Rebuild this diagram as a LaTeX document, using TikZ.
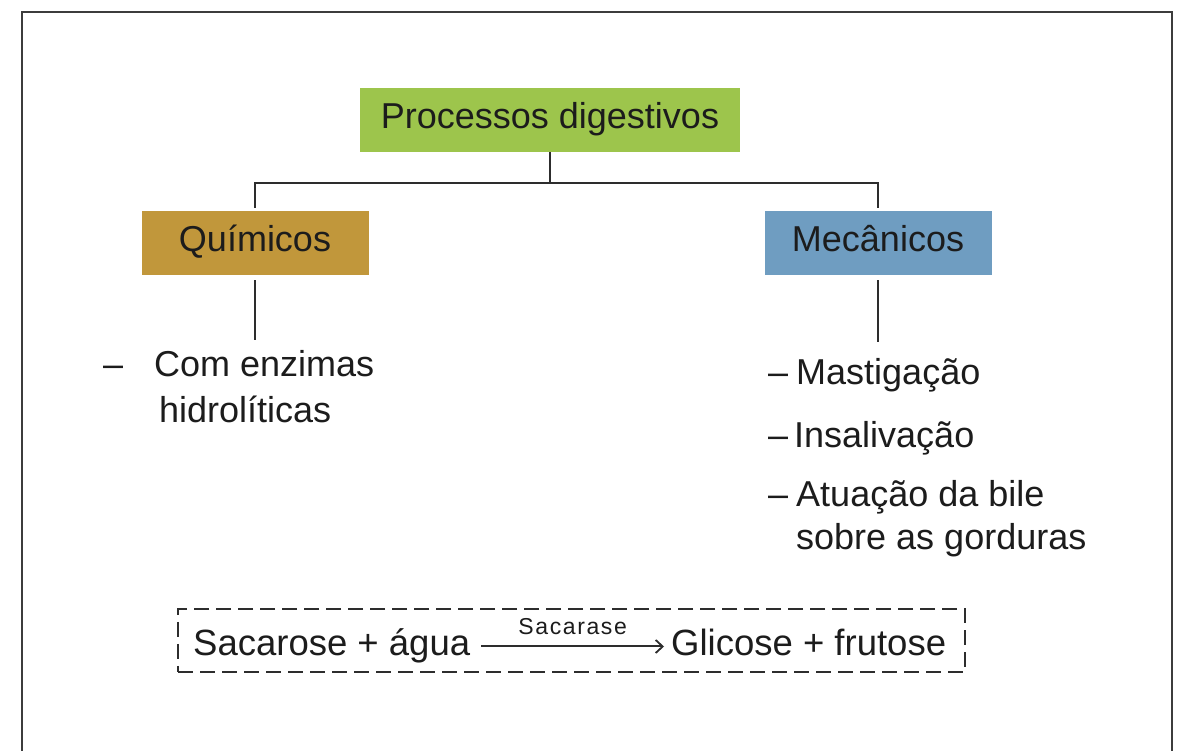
\documentclass[tikz,border=0pt]{standalone}
\usepackage{fontspec}
\setmainfont{Liberation Sans}
\usetikzlibrary{arrows.meta}
\definecolor{boxgreen}{RGB}{157,197,76}
\definecolor{boxgold}{RGB}{193,151,59}
\definecolor{boxblue}{RGB}{111,157,193}
\definecolor{ink}{RGB}{28,28,28}
\definecolor{linegray}{RGB}{45,45,45}
\definecolor{framegray}{RGB}{60,60,60}
\tikzset{
  cat/.style={rectangle, inner sep=0pt, minimum height=64pt, text height=26pt, text depth=8pt,
              font=\fontsize{36}{43}\selectfont, text=ink},
  item/.style={anchor=base west, inner sep=0pt, font=\fontsize{36}{43}\selectfont, text=ink},
  eqtxt/.style={anchor=base west, inner sep=0pt, text height=27pt, text depth=8pt,
              font=\fontsize{36.5}{43}\selectfont, text=ink},
  conn/.style={draw=linegray, line width=2pt},
  dashbox/.style={rectangle, draw=linegray, line width=2pt, dash pattern=on 15pt off 7pt, inner sep=0pt},
  reactarrow/.style={draw=linegray, line width=2pt, -{Straight Barb[length=7pt,width=13pt,line width=1.8pt]}},
  framestyle/.style={draw=framegray, line width=2.5pt}
}
\begin{document}
\begin{tikzpicture}[x=1pt,y=1pt]
\useasboundingbox (0,0) rectangle (1185,751);
\fill[white] (0,0) rectangle (1185,751);
% frame
\draw[framestyle] (22,-2) -- (22,739) -- (1172,739) -- (1172,-2);
% category boxes
\node[cat, fill=boxgreen, minimum width=380pt] (proc) at (550,631) {Processos digestivos};
\node[cat, fill=boxgold, minimum width=227pt] (quim) at (255,508) {Químicos};
\node[cat, fill=boxblue, minimum width=227pt] (mec) at (878,508) {Mecânicos};
% connectors
\coordinate (bus) at (550,568);
\draw[conn] (proc.south) -- (bus);
\draw[conn] ([yshift=3pt]quim.north) |- (bus) -| ([yshift=3pt]mec.north);
\draw[conn] ([yshift=-5pt]quim.south) -- ++(0,-60);
\draw[conn] ([yshift=-5pt]mec.south) -- ++(0,-62);
% left items
\node[item] (qd) at (103,374) {–};
\node[item] (q1) at (154,374) {Com enzimas};
\node[item] (q2) at (159,328) {hidrolíticas};
% right items
\node[item] (m1) at (768,366) {–\hspace{8pt}Mastigação};
\node[item] (m2) at (768,303) {–\hspace{6pt}Insalivação};
\node[item] (m3) at (768,244) {–\hspace{8pt}Atuação da bile};
\node[item] (m4) at (796,201) {sobre as gorduras};
% reaction
\node[dashbox, minimum width=787pt, minimum height=63pt] (eq) at (571.5,110.5) {};
\node[eqtxt] (sac) at (193,95) {Sacarose + água};
\node[eqtxt] (glic) at (671,95) {Glicose + frutose};
\draw[reactarrow] ([xshift=11pt]sac.east) -- node[above, inner sep=0pt, yshift=11pt, font=\fontsize{23}{26}\selectfont\addfontfeature{LetterSpace=7}, text=ink] {Sacarase} ([xshift=-7pt]glic.west);
\end{tikzpicture}
\end{document}
